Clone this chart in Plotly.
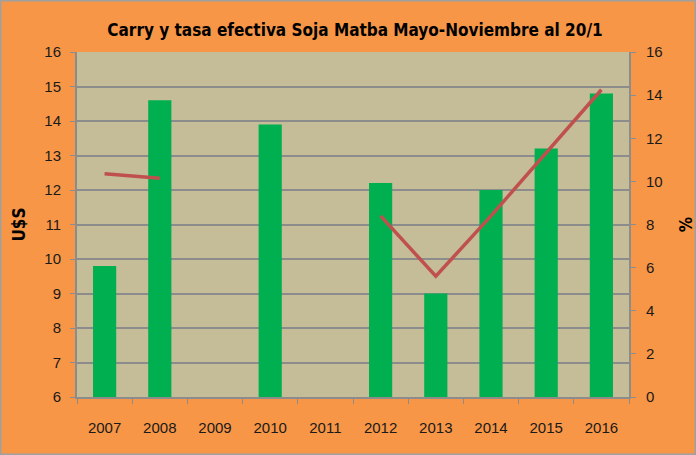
import plotly.graph_objects as go

years = ["2007", "2008", "2009", "2010", "2011", "2012", "2013", "2014", "2015", "2016"]
carry_usd = [9.8, 14.6, None, 13.9, None, 12.2, 9.0, 12.0, 13.2, 14.8]
tasa_pct = [10.35, 10.15, None, None, None, 8.4, 5.6, 8.4, 11.3, 14.25]

font_main = "Liberation Sans Narrow, Arial Narrow, DejaVu Sans Condensed, sans-serif"
font_ticks = "Liberation Sans, Arial, sans-serif"
grid_col = "#8C8C8C"
tick_col = "#1a1a1a"

fig = go.Figure()
fig.add_trace(go.Bar(x=years, y=carry_usd, marker=dict(color="#00B050", line=dict(width=0)),
                     name="Carry", yaxis="y"))
fig.add_trace(go.Scatter(x=years, y=tasa_pct, mode="lines", line=dict(color="#C0504D", width=3.5),
                         connectgaps=False, name="Tasa", yaxis="y2"))

fig.update_layout(
    width=696, height=455,
    paper_bgcolor="#F79646", plot_bgcolor="#C4BD97",
    margin=dict(l=77, r=67, t=52, b=58, autoexpand=False),
    showlegend=False,
    bargap=0.58,
    title=dict(text="<b>Carry y tasa efectiva Soja Matba Mayo-Noviembre al 20/1</b>",
               x=0.51, xanchor="center", y=0.933, yanchor="middle",
               font=dict(family=font_main, size=17, color="#000000")),
    xaxis=dict(type="category", tickson="boundaries", ticks="outside", ticklen=5,
               tickcolor=grid_col, showline=True, linecolor=grid_col, linewidth=2,
               showgrid=False, ticklabelstandoff=16, automargin=False,
               tickfont=dict(family=font_ticks, size=15, color=tick_col)),
    yaxis=dict(range=[6, 16], dtick=1, ticks="outside", ticklen=5, tickcolor=grid_col,
               showline=True, linecolor=grid_col, linewidth=2, showgrid=True,
               gridcolor=grid_col, gridwidth=1.5, zeroline=False, ticklabelstandoff=6,
               automargin=False,
               tickfont=dict(family=font_ticks, size=15, color=tick_col),
               title=dict(text="<b>U$S</b>", standoff=14,
                          font=dict(family=font_main, size=17, color="#000000"))),
    yaxis2=dict(range=[0, 16], dtick=2, overlaying="y", side="right", ticks="outside",
                ticklen=5, tickcolor=grid_col, showline=True, linecolor=grid_col, linewidth=2,
                showgrid=False, zeroline=False, ticklabelstandoff=7, automargin=False,
                tickfont=dict(family=font_ticks, size=15, color=tick_col),
                title=dict(text="<b>%</b>", standoff=22,
                           font=dict(family=font_main, size=17, color="#000000"))),
    shapes=[dict(type="rect", xref="paper", yref="paper", x0=-77/552, x1=1+67/552,
                 y0=-58/345, y1=1+52/345, line=dict(color="#A0A0A0", width=3),
                 fillcolor="rgba(0,0,0,0)", layer="above")],
)

fig.write_html("out.html", config={"displayModeBar": False},
               post_script="document.body.style.margin='0';document.body.style.padding='0';")
